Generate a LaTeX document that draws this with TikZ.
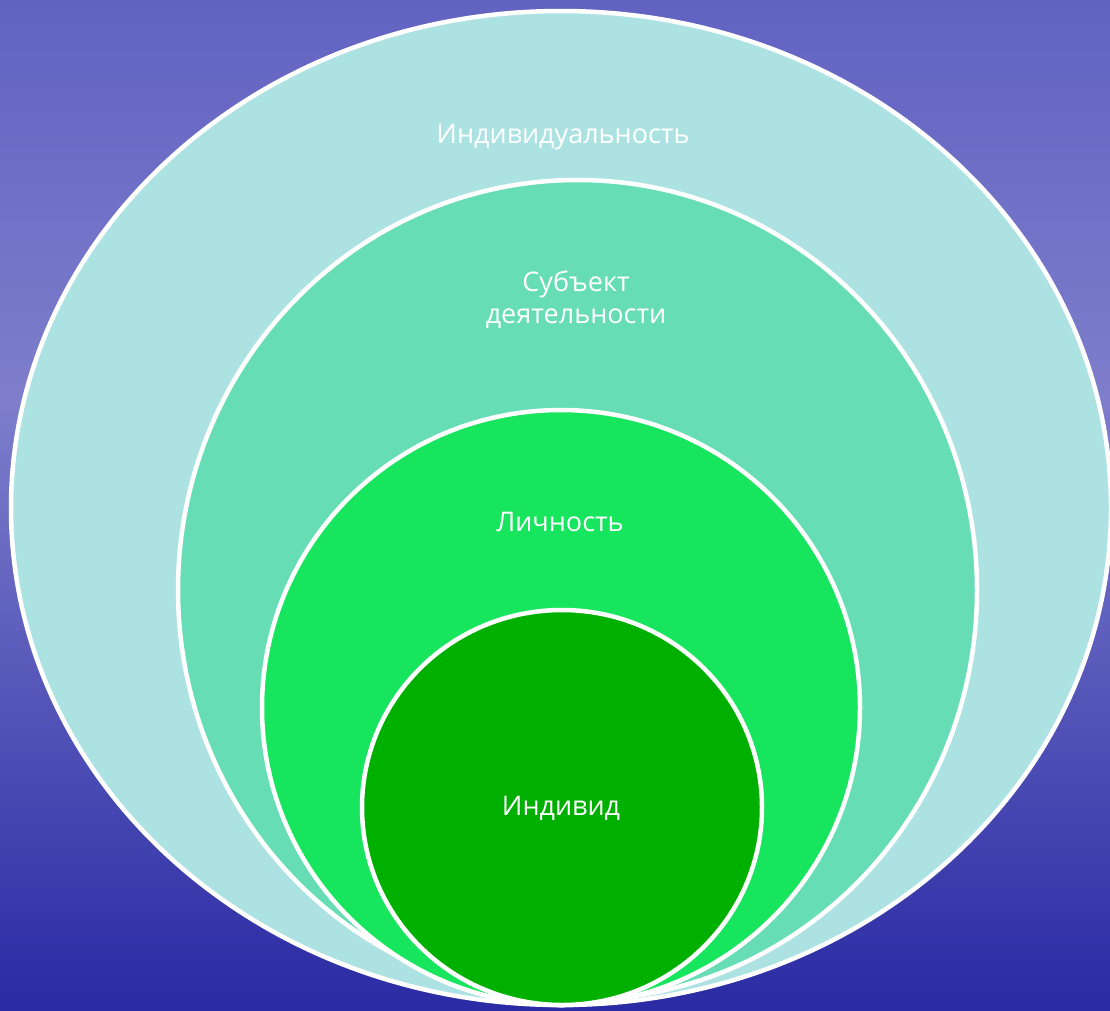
\documentclass[tikz,border=0pt]{standalone}
\usepackage{fontspec}
\setmainfont{Open Sans}
\usetikzlibrary{shapes.geometric}
\definecolor{ringA}{HTML}{ACE3E2}
\definecolor{ringB}{HTML}{66DDB5}
\definecolor{ringC}{HTML}{17E55E}
\definecolor{ringD}{HTML}{00B000}
\definecolor{skyTop}{HTML}{6262C2}
\definecolor{skyMid}{HTML}{7E7ECC}
\definecolor{skyBot}{HTML}{2A2AA4}
\tikzset{
  ring/.style={ellipse, draw=white, line width=4.5pt, inner sep=0pt},
  lab/.style={text=white, font=\fontsize{27}{32}\selectfont, align=center}
}
\begin{document}
\begin{tikzpicture}[x=1pt,y=-1pt]
\useasboundingbox (0,0) rectangle (1110,1010);
\shade[top color=skyTop, bottom color=skyMid] (0,0) rectangle (1110,400);
\shade[top color=skyMid, bottom color=skyBot] (0,399) rectangle (1110,1010);
\node[ring, fill=ringA, minimum width=1100pt, minimum height=994pt] (e1) at (561,508) {};
\node[ring, fill=ringB, minimum width=799pt, minimum height=820pt] (e2) at (577.5,590) {};
\node[ring, fill=ringC, minimum width=598pt, minimum height=595pt] (e3) at (561,707.5) {};
\node[ring, fill=ringD, minimum width=400pt, minimum height=395pt] (e4) at (562,807.5) {};
\node[lab] (t1) at (563,137) {Индивидуальность};
\node[lab] (t2) at (576,300) {Субъект\\деятельности};
\node[lab] (t3) at (560,522) {Личность};
\node[lab] (t4) at (561,808) {Индивид};
\end{tikzpicture}
\end{document}
